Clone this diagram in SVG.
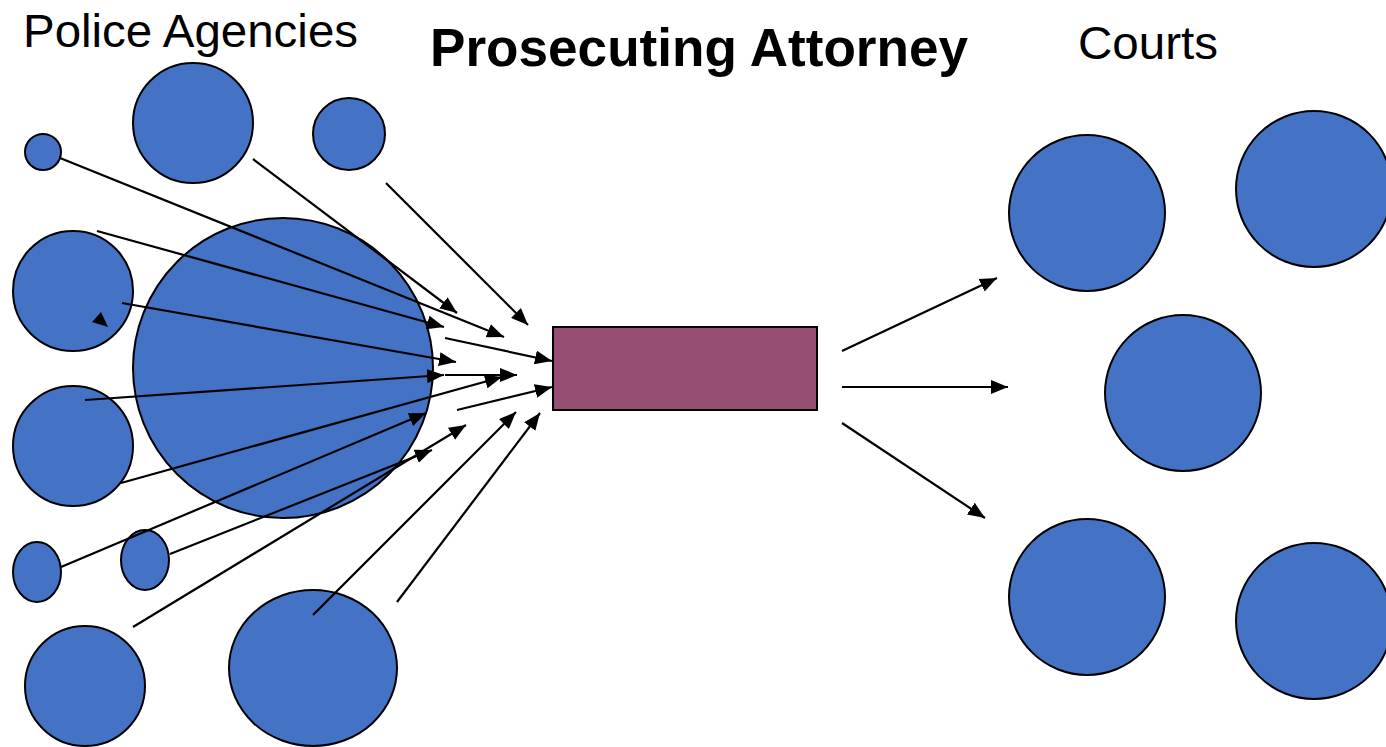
<svg xmlns="http://www.w3.org/2000/svg" width="1386" height="747" viewBox="0 0 1386 747">
<style>
.c{fill:#4472C4;stroke:#000;stroke-width:2}
.l{stroke:#000;stroke-width:2.2;fill:none;marker-end:url(#ah)}
.t{font-family:"Liberation Sans",Arial,sans-serif;fill:#000}
</style>
<defs>
<marker id="ah" markerUnits="userSpaceOnUse" markerWidth="18" markerHeight="14" refX="17" refY="7" orient="auto">
<path d="M0,0 L17,7 L0,14 z" fill="#000"/>
</marker>
</defs>
<rect width="1386" height="747" fill="#fff"/>
<text class="t" x="23" y="47" font-size="47" textLength="335" lengthAdjust="spacingAndGlyphs">Police Agencies</text>
<text class="t" x="430" y="66" font-size="53" font-weight="bold" textLength="538" lengthAdjust="spacingAndGlyphs">Prosecuting Attorney</text>
<text class="t" x="1078" y="59" font-size="47" textLength="140" lengthAdjust="spacingAndGlyphs">Courts</text>
<g id="police">
<g id="p1"><circle class="c" cx="43" cy="152" r="18"/></g>
<g id="p2"><circle class="c" cx="193" cy="123" r="60"/></g>
<g id="p3"><circle class="c" cx="349" cy="134" r="36"/></g>
<g id="p4"><circle class="c" cx="73" cy="291" r="60"/></g>
<g id="p5"><circle class="c" cx="283" cy="368" r="150"/></g>
<g id="p6"><circle class="c" cx="73" cy="446" r="60"/></g>
<g id="p7"><ellipse class="c" cx="37" cy="572" rx="24" ry="30"/></g>
<g id="p8"><ellipse class="c" cx="145" cy="560" rx="24" ry="30"/></g>
<g id="p9"><circle class="c" cx="85" cy="686" r="60"/></g>
<g id="p10"><ellipse class="c" cx="313" cy="668" rx="84" ry="78"/></g>
</g>
<g id="courts">
<g id="k1"><circle class="c" cx="1087" cy="213" r="78"/></g>
<g id="k2"><circle class="c" cx="1314" cy="189" r="78"/></g>
<g id="k3"><circle class="c" cx="1183" cy="393" r="78"/></g>
<g id="k4"><circle class="c" cx="1087" cy="597" r="78"/></g>
<g id="k5"><circle class="c" cx="1314" cy="621" r="78"/></g>
</g>
<g id="attorney"><rect x="553" y="327" width="264" height="83" fill="#954F72" stroke="#000" stroke-width="2"/></g>
<g id="connectors">
<line class="l" x1="60" y1="158" x2="504" y2="337"/>
<line class="l" x1="253" y1="159" x2="457" y2="313"/>
<line class="l" x1="386" y1="183" x2="528" y2="325"/>
<line class="l" x1="97" y1="231" x2="444" y2="327"/>
<line class="l" x1="122" y1="303" x2="456" y2="362"/>
<line class="l" x1="445" y1="338" x2="552" y2="361"/>
<line class="l" x1="85" y1="400" x2="444" y2="375"/>
<line class="l" x1="445" y1="375" x2="517" y2="375"/>
<line class="l" x1="121" y1="483" x2="502" y2="377"/>
<line class="l" x1="457" y1="410" x2="552" y2="387"/>
<line class="l" x1="61" y1="567" x2="426" y2="413"/>
<line class="l" x1="170" y1="554" x2="432" y2="450"/>
<line class="l" x1="133" y1="627" x2="466" y2="425"/>
<line class="l" x1="313" y1="615" x2="516" y2="412"/>
<line class="l" x1="397" y1="602" x2="540" y2="413"/>
<line class="l" x1="842" y1="351" x2="997" y2="278"/>
<line class="l" x1="842" y1="387" x2="1008" y2="387"/>
<line class="l" x1="842" y1="423" x2="985" y2="518"/>
<polygon points="101,312 92,322 108,327" fill="#000"/>
</g>
</svg>
